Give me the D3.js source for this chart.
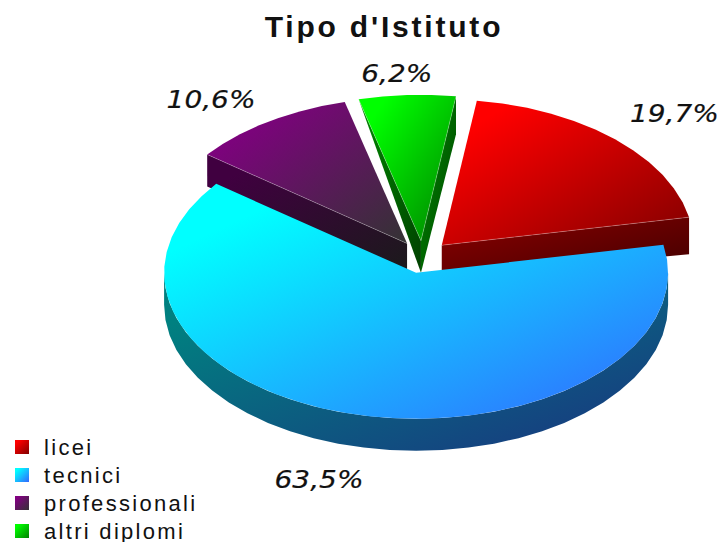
<!DOCTYPE html>
<html>
<head>
<meta charset="utf-8">
<script src="https://cdn.jsdelivr.net/npm/d3@7"></script>
<style>
  html, body { margin: 0; padding: 0; background: #fff; }
  svg { display: block; }
  text { fill: #111; }
</style>
</head>
<body>
<div class="module"></div>
<script>
const categories = ["licei", "tecnici", "professionali", "altri diplomi"];
const shares = [19.7, 63.5, 10.6, 6.2];
const shareLabels = ["19,7%", "63,5%", "10,6%", "6,2%"];
const titleText = "Tipo d'Istituto";

// top-left colour, bottom-right colour of each slice
const colorFrom = ["#ff0000", "#00ffff", "#800080", "#00ff00"];
const colorTo = ["#800000", "#3366ff", "#333333", "#008000"];

const width = 722, height = 542;
const cx = 422.5, cy = 257;
const rx = 252, ry = 146;
const depth = 32, explode = 28;
const firstAngle = 8 * Math.PI / 180;

const svg = d3.select(".module")
  .append("svg")
    .attr("width", width)
    .attr("height", height);

const defs = svg.append("defs");

function addGradient(id, from, to) {
  const g = defs.append("linearGradient")
    .attr("id", id)
    .attr("x1", 0).attr("y1", 0).attr("x2", 1).attr("y2", 1);
  g.append("stop").attr("offset", 0.15).attr("stop-color", from);
  g.append("stop").attr("offset", 1).attr("stop-color", to);
}

function darker(c, k) {
  const r = d3.rgb(c);
  return d3.rgb(r.r * k, r.g * k, r.b * k).formatHex();
}

categories.forEach((c, i) => {
  addGradient("top" + i, colorFrom[i], colorTo[i]);
  addGradient("side" + i, darker(colorFrom[i], 0.5), darker(colorTo[i], 0.5));
});

const pie = d3.pie()
  .sort(null)
  .startAngle(firstAngle)
  .endAngle(firstAngle + 2 * Math.PI);

const slices = pie(shares).map((d, i) => {
  const mid = (d.startAngle + d.endAngle) / 2;
  return {
    i: i,
    a0: d.startAngle,
    a1: d.endAngle,
    mid: mid,
    x: cx + Math.sin(mid) * explode,
    y: cy - Math.cos(mid) * explode * ry / rx
  };
});

const line = d3.line();

// point on the rim of a slice
function rim(s, a, drop) {
  return [s.x + Math.sin(a) * rx, s.y - Math.cos(a) * ry + (drop || 0)];
}

// coarse steps, the rim of the original is visibly polygonal
function rimPoints(s, a0, a1, drop) {
  const n = Math.max(2, Math.ceil((a1 - a0) / (6 * Math.PI / 180)));
  return d3.range(n + 1).map(k => rim(s, a0 + (a1 - a0) * k / n, drop));
}

function drawFace(s, a, fill, tipDrop) {
  svg.append("path")
    .attr("d", line([[s.x, s.y], rim(s, a), rim(s, a, tipDrop), [s.x, s.y + depth]]) + "Z")
    .attr("fill", fill);
}

// the wall at the outer end of a cut is not the same height everywhere in the original
const startTipDrop = [depth, depth, depth, 0];
const endTipDrop = [37, depth, depth, 38];

// back slices first, the big one goes on top
[2, 0, 3, 1].forEach(i => {
  const s = slices[i];

  // outer wall, only the front half of the ellipse shows
  const lo = Math.max(s.a0, Math.PI / 2), hi = Math.min(s.a1, 3 * Math.PI / 2);
  if (hi > lo) {
    const upper = rimPoints(s, lo, hi, 0);
    const lower = rimPoints(s, lo, hi, depth).reverse();
    svg.append("path")
      .attr("d", line(upper.concat(lower)) + "Z")
      .attr("fill", "url(#side" + i + ")");
  }

  // cut faces
  const showStart = Math.sin(s.a0) < 0, showEnd = Math.sin(s.a1) > 0;
  if (showStart) drawFace(s, s.a0, "url(#side" + i + ")", startTipDrop[i]);
  if (showEnd) drawFace(s, s.a1, "url(#side" + i + ")", endTipDrop[i]);

  svg.append("path")
    .attr("d", line([[s.x, s.y]].concat(rimPoints(s, s.a0, s.a1))) + "Z")
    .attr("fill", "url(#top" + i + ")");

  // faint light line where the top meets a cut face
  [[showStart, s.a0], [showEnd, s.a1]].forEach(([show, a]) => {
    if (!show) return;
    svg.append("path")
      .attr("d", line([[s.x, s.y], rim(s, a)]))
      .attr("stroke", "#fff")
      .attr("stroke-opacity", 0.25)
      .attr("fill", "none");
  });
});

// title
svg.append("text")
  .attr("x", 384)
  .attr("y", 37)
  .attr("text-anchor", "middle")
  .attr("font-family", "Liberation Sans")
  .attr("font-weight", "bold")
  .attr("font-size", 30)
  .attr("letter-spacing", 2.8)
  .text(titleText);

// percent labels, pushed out along each slice
const labelReach = [1.39, 1.57, 1.38, 1.27];
const labelShift = [[11, 3], [-13, -1], [-20, 10], [-8, 1]];

svg.selectAll(".share")
  .data(slices)
  .enter()
  .append("text")
    .attr("class", "share")
    .attr("transform", d => {
      const x = cx + Math.sin(d.mid) * rx * labelReach[d.i] + labelShift[d.i][0];
      const y = cy - Math.cos(d.mid) * ry * labelReach[d.i] + labelShift[d.i][1] + 9;
      return "translate(" + x + "," + y + ") scale(1.12,1)";
    })
    .attr("text-anchor", "middle")
    .attr("font-family", "DejaVu Sans")
    .attr("font-style", "italic")
    .attr("font-size", 25)
    .attr("stroke", "#111")
    .attr("stroke-width", 0.2)
    .text(d => shareLabels[d.i]);

// legend
const legendY = d3.scalePoint()
  .domain(categories)
  .range([447, 531]);

const legend = svg.selectAll(".legend")
  .data(categories)
  .enter()
  .append("g")
    .attr("class", "legend")
    .attr("transform", d => "translate(15," + legendY(d) + ")");

legend.append("rect")
  .attr("y", -7)
  .attr("width", 14)
  .attr("height", 14)
  .attr("fill", (d, i) => "url(#top" + i + ")");

legend.append("text")
  .attr("x", 29)
  .attr("y", 8)
  .attr("font-family", "Liberation Sans")
  .attr("font-size", 22)
  .attr("letter-spacing", 2.3)
  .text(d => d);
</script>
</body>
</html>
